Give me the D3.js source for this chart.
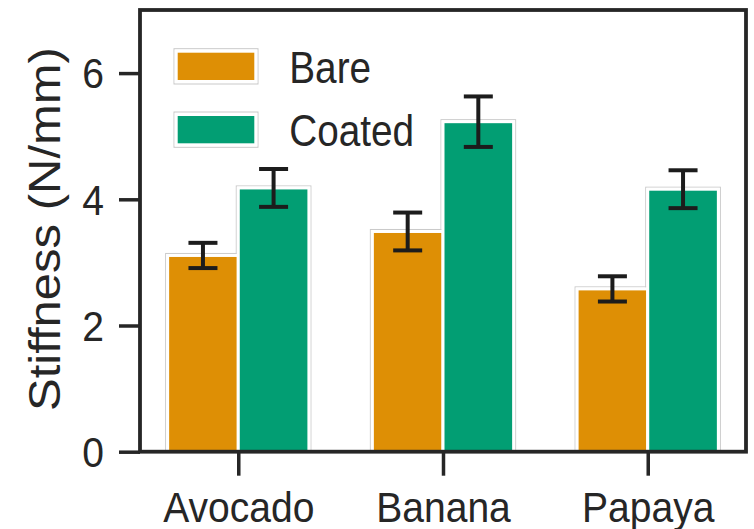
<!DOCTYPE html>
<html>
<head>
<meta charset="utf-8">
<script src="https://cdn.jsdelivr.net/npm/d3@7"></script>
<style>
  html, body { margin: 0; padding: 0; background: #ffffff; }
  svg { display: block; }
  text { font-family: "Liberation Sans", Arial, sans-serif; fill: #262626; }
</style>
</head>
<body>
<svg id="chart" width="754" height="529"></svg>
<script>
// Fruit categories and the two surface treatments
const fruits = ["Avocado", "Banana", "Papaya"];
const seriesNames = ["Bare", "Coated"];
const bareMean = [3.11, 3.49, 2.58];
const bareErr = [0.20, 0.30, 0.20];
const coatedMean = [4.18, 5.23, 4.16];
const coatedErr = [0.30, 0.40, 0.30];
const yTicks = [0, 2, 4, 6];

const colors = { Bare: "#de8f05", Coated: "#029e73" };
const ink = "#262626";

const rows = [];
fruits.forEach((f, i) => {
  rows.push({ fruit: f, series: "Bare", mean: bareMean[i], err: bareErr[i], k: 0 });
  rows.push({ fruit: f, series: "Coated", mean: coatedMean[i], err: coatedErr[i], k: 1 });
});

const svg = d3.select("#chart");
const plotL = 140, plotR = 746, plotT = 10, plotB = 451.7;

const x = d3.scalePoint().domain(fruits).range([plotL, plotR]).padding(0.48);
const y = d3.scaleLinear().domain([0, 7]).range([plotB, plotT]);
const barW = x.step() * 0.345;

const barX = d => x(d.fruit) + (d.k === 0 ? -barW : 0);

// light grey halo behind each bar
svg.append("g").selectAll("rect").data(rows).join("rect")
  .attr("x", d => barX(d) - 2)
  .attr("y", d => y(d.mean) - 2)
  .attr("width", barW + 4)
  .attr("height", d => plotB - y(d.mean) + 2)
  .attr("fill", "none")
  .attr("stroke", "#c9c9c9")
  .attr("stroke-width", 1);

// bars with a white edge
svg.append("g").selectAll("rect").data(rows).join("rect")
  .attr("x", d => barX(d))
  .attr("y", d => y(d.mean))
  .attr("width", barW)
  .attr("height", d => plotB - y(d.mean))
  .attr("fill", d => colors[d.series])
  .attr("stroke", "#ffffff")
  .attr("stroke-width", 3);

// error bars
const cap = 14.5;
const eb = svg.append("g").attr("stroke", "#1c1c1c").attr("stroke-width", 4).attr("fill", "none");
rows.forEach(d => {
  const cx = barX(d) + barW / 2;
  const y0 = y(d.mean - d.err), y1 = y(d.mean + d.err);
  eb.append("line").attr("x1", cx).attr("x2", cx).attr("y1", y0).attr("y2", y1);
  eb.append("line").attr("x1", cx - cap).attr("x2", cx + cap).attr("y1", y0).attr("y2", y0);
  eb.append("line").attr("x1", cx - cap).attr("x2", cx + cap).attr("y1", y1).attr("y2", y1);
});

// frame
svg.append("rect")
  .attr("x", plotL).attr("y", plotT)
  .attr("width", plotR - plotL).attr("height", plotB - plotT)
  .attr("fill", "none").attr("stroke", ink).attr("stroke-width", 3.8);

// y axis
const yAxis = svg.append("g").attr("transform", `translate(${plotL},0)`)
  .call(d3.axisLeft(y).tickValues(yTicks).tickSize(21).tickFormat(d3.format("d")));
yAxis.select(".domain").remove();
yAxis.selectAll(".tick line").attr("stroke", ink).attr("stroke-width", 3.5);
yAxis.selectAll(".tick text")
  .attr("x", null).attr("dy", "0.35em")
  .attr("transform", "translate(-36,0) scale(0.93,1)")
  .attr("text-anchor", "end")
  .style("font-size", "42px").style("fill", ink);

// x axis
const xAxis = svg.append("g").attr("transform", `translate(0,${plotB})`)
  .call(d3.axisBottom(x).tickSize(24));
xAxis.select(".domain").remove();
xAxis.selectAll(".tick line").attr("stroke", ink).attr("stroke-width", 3.5);
xAxis.selectAll(".tick text")
  .attr("y", null).attr("dy", null)
  .attr("transform", "translate(0,70) scale(0.93,1)")
  .attr("text-anchor", "middle")
  .style("font-size", "42px").style("fill", ink);

// y axis title
svg.append("text")
  .attr("transform", "translate(60,229) scale(0.9,1) rotate(-90)")
  .attr("text-anchor", "middle")
  .style("font-size", "49px")
  .text("Stiffness (N/mm)");

// legend
const legend = svg.append("g");
seriesNames.forEach((s, i) => {
  const py = 51.2 + i * 63.3;
  legend.append("rect")
    .attr("x", 174).attr("y", py - 2.5).attr("width", 84).attr("height", 35.3)
    .attr("fill", "none").attr("stroke", "#c9c9c9").attr("stroke-width", 1);
  legend.append("rect")
    .attr("x", 176.2).attr("y", py).attr("width", 79.6).attr("height", 30.3)
    .attr("fill", colors[s]).attr("stroke", "#ffffff").attr("stroke-width", 3);
  legend.append("text")
    .attr("transform", `translate(289.3,${83.3 + i * 62.5}) scale(0.88,1)`)
    .style("font-size", "44px")
    .text(s);
});
</script>
</body>
</html>
